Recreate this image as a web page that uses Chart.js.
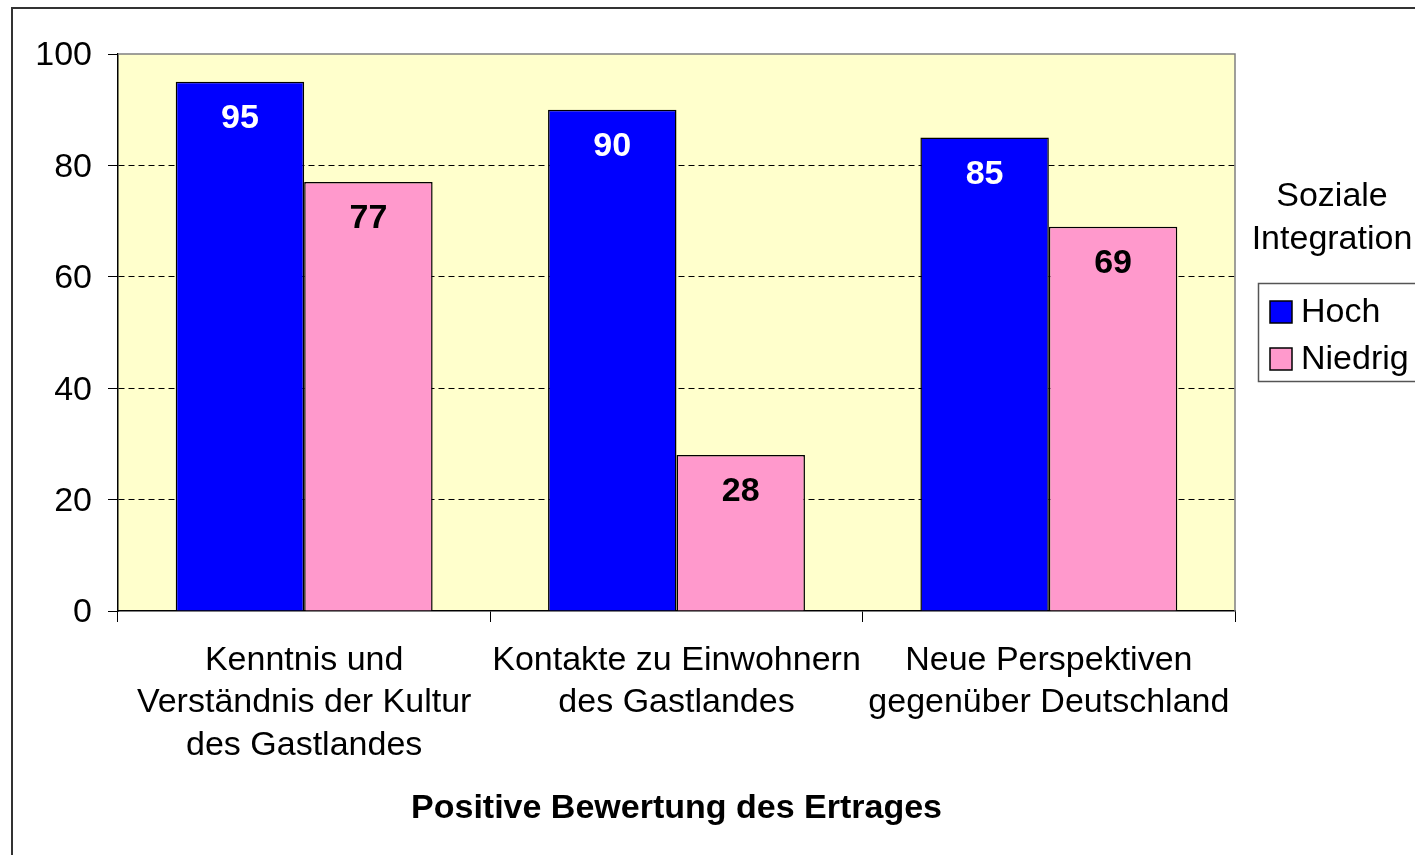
<!DOCTYPE html>
<html lang="de">
<head>
<meta charset="utf-8">
<title>Positive Bewertung des Ertrages</title>
<script src="https://cdn.jsdelivr.net/npm/chart.js@4.4.1/dist/chart.umd.min.js"></script>
<style>
    html, body { margin: 0; padding: 0; background: #fff; }
    #wrap { width: 1415px; height: 855px; position: relative; }
</style>
</head>
<body>
<div id="wrap"><canvas id="ertragChart"></canvas></div>
<script>
// Daten
const kategorien = [
    ['Kenntnis und', 'Verständnis der Kultur', 'des Gastlandes'],
    ['Kontakte zu Einwohnern', 'des Gastlandes'],
    ['Neue Perspektiven', 'gegenüber Deutschland']
];
const serienNamen = ['Hoch', 'Niedrig'];
const werteHoch = [95, 90, 85];
const werteNiedrig = [77, 28, 69];
const yTicks = [0, 20, 40, 60, 80, 100];
const achsenTitel = 'Positive Bewertung des Ertrages';
const legendenTitel = ['Soziale', 'Integration'];

const FONT = '"Liberation Sans", Arial, Helvetica, sans-serif';
const farben = ['#0000FF', '#FF99CC'];
const labelFarben = ['#FFFFFF', '#000000'];

// Hintergrund der Zeichenfläche + grauer Rahmen oben/rechts
const plotHintergrund = {
    id: 'plotHintergrund',
    beforeDraw(chart) {
        const { ctx, chartArea: a } = chart;
        ctx.save();
        ctx.fillStyle = '#FFFFCC';
        ctx.fillRect(a.left, a.top, a.right - a.left, a.bottom - a.top);
        ctx.restore();
    },
    beforeDatasetsDraw(chart) {
        const { ctx, chartArea: a } = chart;
        ctx.save();
        ctx.strokeStyle = '#808080';
        ctx.lineWidth = 1.5;
        ctx.beginPath();
        ctx.moveTo(a.left, a.top);
        ctx.lineTo(a.right, a.top);
        ctx.lineTo(a.right, a.bottom);
        ctx.stroke();
        ctx.restore();
    }
};

// Werte in den Balken
const balkenWerte = {
    id: 'balkenWerte',
    afterDatasetsDraw(chart) {
        const ctx = chart.ctx;
        ctx.save();
        ctx.font = 'bold 34px ' + FONT;
        ctx.textAlign = 'center';
        ctx.textBaseline = 'middle';
        chart.data.datasets.forEach((ds, i) => {
            const meta = chart.getDatasetMeta(i);
            ctx.fillStyle = labelFarben[i];
            meta.data.forEach((bar, j) => {
                ctx.fillText(String(ds.data[j]), bar.x, bar.y + 37);
            });
        });
        ctx.restore();
    }
};

// Legende rechts, plus äußerer Rahmen
const legendeRechts = {
    id: 'legendeRechts',
    afterDraw(chart) {
        const ctx = chart.ctx;
        ctx.save();
        ctx.fillStyle = '#000';
        ctx.font = '34px ' + FONT;
        ctx.textAlign = 'center';
        ctx.textBaseline = 'middle';
        legendenTitel.forEach((t, i) => ctx.fillText(t, 1332, 197 + i * 43));

        ctx.strokeStyle = '#555';
        ctx.lineWidth = 1.5;
        ctx.strokeRect(1258.5, 283.5, 200, 98);

        ctx.textAlign = 'left';
        chart.data.datasets.forEach((ds, i) => {
            const y = 312 + i * 47;
            ctx.fillStyle = ds.backgroundColor;
            ctx.fillRect(1270, y - 11, 22, 22);
            ctx.strokeStyle = '#000';
            ctx.lineWidth = 1.5;
            ctx.strokeRect(1270, y - 11, 22, 22);
            ctx.fillStyle = '#000';
            ctx.fillText(ds.label, 1301, y + 1);
        });

        ctx.strokeStyle = '#333';
        ctx.lineWidth = 2;
        ctx.strokeRect(12, 8, 1500, 1000);
        ctx.restore();
    }
};

new Chart(document.getElementById('ertragChart'), {
    type: 'bar',
    data: {
        labels: kategorien,
        datasets: [
            {
                label: serienNamen[0],
                data: werteHoch,
                backgroundColor: farben[0],
                borderColor: '#000',
                borderWidth: 1.5
            },
            {
                label: serienNamen[1],
                data: werteNiedrig,
                backgroundColor: farben[1],
                borderColor: '#000',
                borderWidth: 1.5
            }
        ]
    },
    options: {
        responsive: true,
        maintainAspectRatio: false,
        animation: false,
        categoryPercentage: 0.69,
        barPercentage: 1,
        layout: { padding: { top: 54, right: 180, left: 0, bottom: 0 } },
        plugins: {
            legend: { display: false },
            tooltip: { enabled: false }
        },
        scales: {
            x: {
                afterFit: scale => { scale.height = 244; },
                grid: {
                    offset: true,
                    drawOnChartArea: false,
                    tickLength: 11,
                    tickColor: '#000',
                    tickWidth: 1
                },
                border: { color: '#000', width: 1.5 },
                ticks: {
                    color: '#000',
                    padding: 17,
                    maxRotation: 0,
                    autoSkip: false,
                    font: { family: FONT, size: 34, lineHeight: 1.25 }
                },
                title: {
                    display: true,
                    text: achsenTitel,
                    color: '#000',
                    font: { family: FONT, size: 34, weight: 'bold' },
                    padding: { top: 0, bottom: 26 }
                }
            },
            y: {
                min: yTicks[0],
                max: yTicks[yTicks.length - 1],
                afterFit: scale => { scale.width = 118; },
                afterBuildTicks: scale => {
                    scale.ticks = yTicks.map(v => ({ value: v }));
                },
                grid: {
                    color: c => (c.tick && (c.tick.value === 0 || c.tick.value === 100)) ? 'rgba(0,0,0,0)' : '#000',
                    lineWidth: 1,
                    tickLength: 10,
                    tickColor: '#000',
                    tickWidth: 1
                },
                border: { color: '#000', width: 1.5, dash: [6, 4] },
                ticks: {
                    color: '#000',
                    padding: 16,
                    labelOffset: 2,
                    font: { family: FONT, size: 34 }
                }
            }
        }
    },
    plugins: [plotHintergrund, balkenWerte, legendeRechts]
});
</script>
</body>
</html>
